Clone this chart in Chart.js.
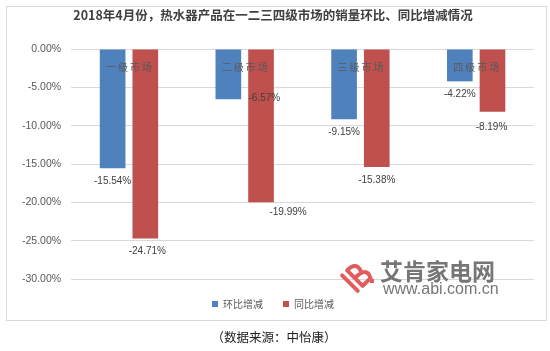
<!DOCTYPE html>
<html>
<head>
<meta charset="utf-8">
<script src="https://cdn.jsdelivr.net/npm/chart.js@4"></script>
<style>
  body { margin: 0; background: #fff; }
  #wrap { width: 550px; height: 351px; position: relative; }
</style>
</head>
<body>
<div id="wrap"><canvas id="myChart" width="550" height="351"></canvas></div>
<script>
const categories = ['一级市场', '二级市场', '三级市场', '四级市场'];
const seriesNames = ['环比增减', '同比增减'];
const momValues = [-15.54, -6.57, -9.15, -4.22];
const yoyValues = [-24.71, -19.99, -15.38, -8.19];
const yTicks = [0, -5, -10, -15, -20, -25, -30];

// label nudges (px) where the source moved labels by hand
const labelShift = [
  [[0, 0], [36, -14], [0, 0], [0, 0]],
  [[2, 0], [27, -3], [0, 0], [-1, 2]]
];

const frame = {
  id: 'frame',
  beforeDraw(chart) {
    const c = chart.ctx;
    c.save();
    c.fillStyle = '#fff';
    c.fillRect(0, 0, chart.width, chart.height);
    c.strokeStyle = '#d9d9d9';
    c.lineWidth = 1;
    c.strokeRect(6.5, 6.5, 540, 314);
    c.restore();
  },
  afterDraw(chart) {
    const c = chart.ctx;
    c.save();
    // watermark
    c.save();
    c.translate(357, 276);
    c.rotate(-Math.PI / 4);
    c.strokeStyle = '#e25c5c';
    c.lineWidth = 4;
    c.lineCap = 'round';
    c.beginPath();
    c.moveTo(-10, -11); c.lineTo(-10, 11);
    c.moveTo(-3, -11); c.lineTo(-3, 11);
    c.moveTo(-3, -11); c.quadraticCurveTo(10, -11, 6, 0);
    c.moveTo(-3, 0); c.quadraticCurveTo(14, 0, 8, 11); c.lineTo(-3, 11);
    c.stroke();
    c.restore();
    c.fillStyle = '#e25c5c';
    c.fillRect(370, 279, 4, 4);
    c.fillStyle = '#767676';
    c.textAlign = 'left';
    c.textBaseline = 'middle';
    c.font = 'bold 23px "Noto Sans CJK SC"';
    c.fillText('艾肯家电网', 380, 271);
    c.font = '16px "Liberation Sans"';
    c.fillText('www.abi.com.cn', 383, 290);
    // source
    c.fillStyle = '#222';
    c.textAlign = 'center';
    c.font = '12.5px "Noto Sans CJK SC"';
    c.fillText('（数据来源：中怡康）', 274, 337);
    c.restore();
  }
};

const valueLabels = {
  id: 'valueLabels',
  afterDatasetsDraw(chart) {
    const c = chart.ctx;
    const xs = chart.scales.x, ys = chart.scales.y;
    c.save();
    c.font = '10px "Liberation Sans"';
    c.fillStyle = '#404040';
    c.textAlign = 'center';
    c.textBaseline = 'middle';
    chart.data.datasets.forEach((ds, i) => {
      chart.getDatasetMeta(i).data.forEach((bar, j) => {
        const s = labelShift[i][j];
        c.fillText(ds.data[j].toFixed(2) + '%', bar.x + s[0], bar.y + 13 + s[1]);
      });
    });
    // category names sit on top of the bars, just under the zero line
    c.font = '10px "Noto Sans CJK SC"';
    c.fillStyle = '#595959';
    c.letterSpacing = '2px';
    categories.forEach((name, j) => {
      c.fillText(name, xs.getPixelForValue(j) + 1, ys.getPixelForValue(0) + 18);
    });
    c.restore();
  }
};

new Chart(document.getElementById('myChart'), {
  type: 'bar',
  data: {
    labels: categories,
    datasets: [
      { label: seriesNames[0], data: momValues, backgroundColor: '#4f81bd' },
      { label: seriesNames[1], data: yoyValues, backgroundColor: '#c0504d' }
    ]
  },
  options: {
    responsive: false,
    animation: false,
    devicePixelRatio: 1,
    categoryPercentage: 0.565,
    barPercentage: 0.785,
    layout: { padding: { top: 4, left: 12, right: 16, bottom: 32 } },
    plugins: {
      title: {
        display: true,
        text: '2018年4月份，热水器产品在一二三四级市场的销量环比、同比增减情况',
        font: { family: '"Noto Sans CJK SC"', size: 12.5, weight: 'bold' },
        color: '#404040',
        padding: { top: 4, bottom: 26 }
      },
      legend: {
        position: 'bottom',
        labels: {
          boxWidth: 6,
          boxHeight: 6,
          padding: 20,
          color: '#595959',
          font: { family: '"Noto Sans CJK SC"', size: 10 }
        }
      },
      tooltip: { enabled: false }
    },
    scales: {
      x: {
        position: { y: 0 },
        grid: { display: false },
        border: { display: false },
        ticks: { display: false }
      },
      y: {
        min: -30,
        max: 0,
        afterBuildTicks(scale) { scale.ticks = yTicks.map(v => ({ value: v })); },
        grid: { color: '#d9d9d9', drawTicks: false },
        border: { display: false },
        ticks: {
          autoSkip: false,
          color: '#595959',
          padding: 10,
          font: { family: '"Liberation Sans"', size: 10.5 },
          callback: v => v.toFixed(2) + '%'
        }
      }
    }
  },
  plugins: [frame, valueLabels]
});
</script>
</body>
</html>
